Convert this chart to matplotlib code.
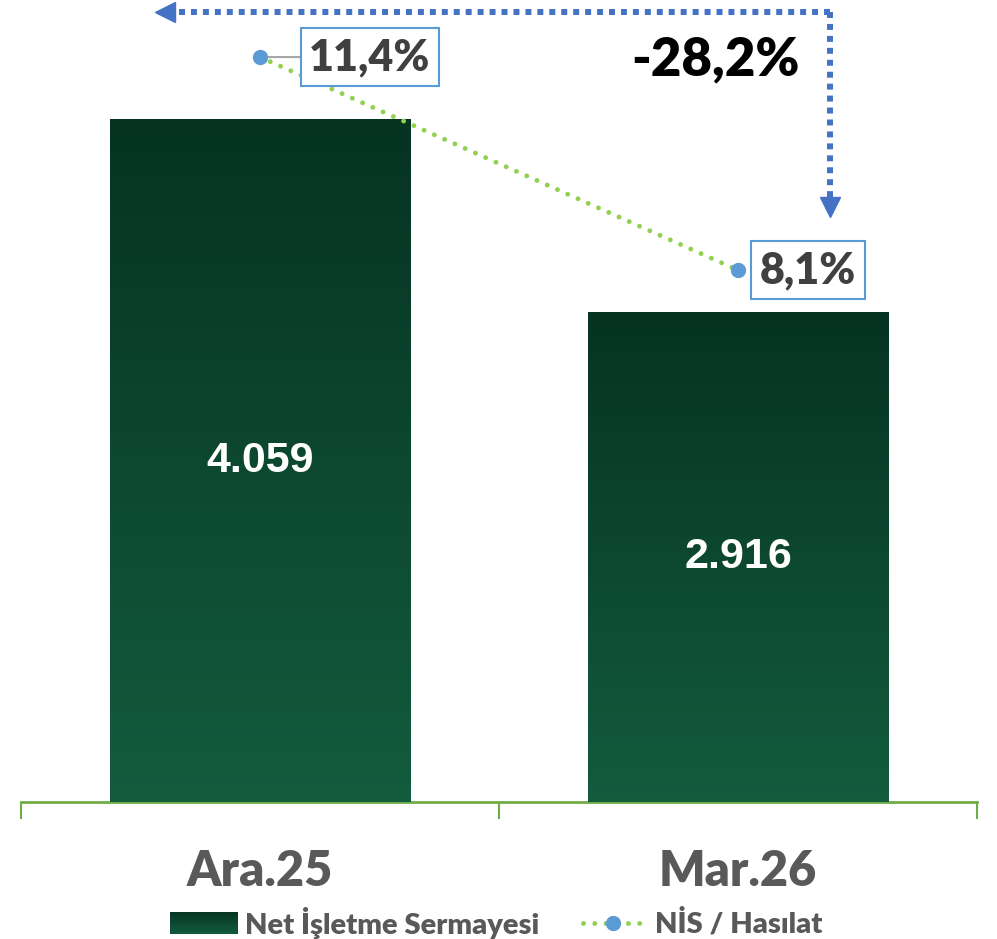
import numpy as np
import matplotlib
matplotlib.use("Agg")
import matplotlib.pyplot as plt
from matplotlib.lines import Line2D
import matplotlib.transforms as mtransforms

categories = ["Ara.25", "Mar.26"]
nis_values = [4059, 2916]
nis_labels = ["4.059", "2.916"]
ratio_pct = [11.4, 8.1]
ratio_labels = ["11,4%", "8,1%"]
change_label = "-28,2%"
legend_labels = ["Net İşletme Sermayesi", "NİS / Hasılat"]

DARK = "#063322"
LIGHT = "#135C3E"
GRAY = "#404040"
LINE_GREEN = "#92D050"
MARK_BLUE = "#5B9BD5"
ARROW_BLUE = "#4472C4"
AXIS_GREEN = "#70AD47"
FW = "heavy"

W, H = 997, 939
fig = plt.figure(figsize=(W / 100, H / 100), dpi=100)
ax = fig.add_axes([21 / W, (H - 802) / H, 956 / W, 802 / H])

grad = np.linspace(1, 0, 256).reshape(-1, 1)
cmap = matplotlib.colors.LinearSegmentedColormap.from_list("g", [LIGHT, DARK])
x = np.arange(len(categories))
bw = 0.628
bars = ax.bar(x, nis_values, width=bw, color=LIGHT, zorder=2)
for b in bars:
    x0, y0, w, h = b.get_x(), b.get_y(), b.get_width(), b.get_height()
    ax.imshow(grad, extent=[x0, x0 + w, y0, y0 + h], aspect="auto",
              cmap=cmap, vmin=0, vmax=1, zorder=3)
ax.set_xlim(-0.5, 1.5)
ax.set_ylim(0, 4773)

for xi, v, lab in zip(x, nis_values, nis_labels):
    ax.text(xi, v * 0.5, lab, ha="center", va="center", color="white",
            fontsize=31, fontweight="bold", family="Liberation Sans", zorder=5)

# axis styling
for s in ["top", "right", "left"]:
    ax.spines[s].set_visible(False)
ax.spines["bottom"].set_color(AXIS_GREEN)
ax.spines["bottom"].set_linewidth(2)
ax.set_yticks([])
ax.set_xticks([-0.5, 0.5, 1.5])
ax.set_xticklabels([])
ax.tick_params(axis="x", direction="out", length=12, width=1.5, color=AXIS_GREEN)
for xi, c in zip(x, categories):
    ax.text(xi, -0.087, c, transform=ax.get_xaxis_transform(), ha="center", va="center",
            fontsize=35, fontweight=FW, color="#595959", family="Lato")

# secondary axis for ratio
ax2 = ax.twinx()
ax2.set_ylim(-0.141, 12.284)
ax2.axis("off")
ax2.plot(x, ratio_pct, color=LINE_GREEN, lw=3.5, linestyle=(0, (0.01, 2.3)),
         dash_capstyle="round", zorder=4)
ax2.plot(x, ratio_pct, linestyle="none", marker="o", ms=10, color=MARK_BLUE, zorder=5)

offsets = [110, 70]
for i, (xi, p, lab, off) in enumerate(zip(x, ratio_pct, ratio_labels, offsets)):
    arrow = dict(arrowstyle="-", color="#A6A6A6", lw=1.5, shrinkA=0, shrinkB=6) if i == 0 else None
    ax2.annotate(lab, xy=(xi, p), xytext=(off * 0.72, 0), textcoords="offset points",
                 ha="center", va="center", fontsize=31, fontweight=FW, color=GRAY,
                 family="Lato", zorder=6,
                 bbox=dict(boxstyle="square,pad=0.2", fc="white", ec=MARK_BLUE, lw=1.5),
                 arrowprops=arrow)

# change bracket arrow
tr = mtransforms.blended_transform_factory(ax.transData, ax.transAxes)
xl, xr = -0.199, 1.192
yt, yb = 0.985, 0.742
ax.plot([xr, xl + 0.02], [yt, yt], transform=tr, color=ARROW_BLUE, lw=4.3,
        linestyle=(0, (1, 1)), dash_capstyle="butt", clip_on=False, zorder=6)
ax.plot([xr, xr], [yt, yb + 0.01], transform=tr, color=ARROW_BLUE, lw=4.3,
        linestyle=(0, (1, 1)), dash_capstyle="butt", clip_on=False, zorder=6)
ax.plot([xl], [yt], transform=tr, marker="<", ms=14, color=ARROW_BLUE, clip_on=False, zorder=7)
ax.plot([xr], [yb], transform=tr, marker="v", ms=14, color=ARROW_BLUE, clip_on=False, zorder=7)
ax.text(0.952, 0.925, change_label, transform=tr, ha="center", va="center",
        fontsize=38, fontweight=FW, color="black", family="Lato", zorder=7)

# legend (manual)
sw = fig.add_axes([170 / W, (H - 934) / H, 68 / W, 22 / H])
sw.imshow(grad, aspect="auto", cmap=cmap, vmin=0, vmax=1)
sw.axis("off")
fig.text(245 / W, (H - 923) / H, legend_labels[0], ha="left", va="center",
         fontsize=21, fontweight=FW, color="#595959", family="Lato")
fig.add_artist(Line2D([583 / W, 643 / W], [(H - 923) / H] * 2, color=LINE_GREEN, lw=3.5,
                      linestyle=(0, (0.01, 2.3)), dash_capstyle="round"))
fig.add_artist(Line2D([613 / W], [(H - 923) / H], marker="o", ms=10, color=MARK_BLUE))
fig.text(655 / W, (H - 923) / H, legend_labels[1], ha="left", va="center",
         fontsize=21, fontweight=FW, color="#595959", family="Lato")

fig.savefig("out.png", dpi=100)
